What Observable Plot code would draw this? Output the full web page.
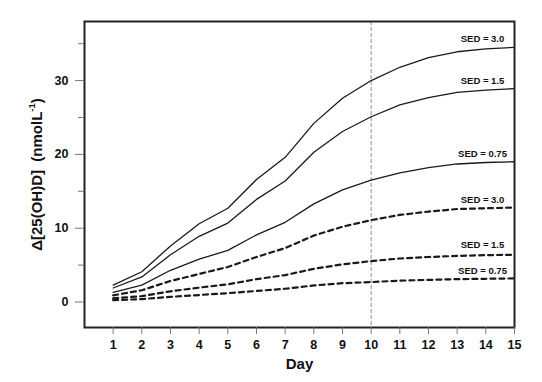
<!DOCTYPE html>
<html>
<head>
<meta charset="utf-8">
<script src="https://cdn.jsdelivr.net/npm/d3@7"></script>
<script src="https://cdn.jsdelivr.net/npm/@observablehq/plot@0.6"></script>
<style>
  html, body { margin: 0; padding: 0; background: white; }
  #chart svg { display: block; }
</style>
</head>
<body>
<div id="chart"></div>
<script>
const days = [1, 2, 3, 4, 5, 6, 7, 8, 9, 10, 11, 12, 13, 14, 15];
const solid30  = [2.3, 4.1, 7.6, 10.6, 12.7, 16.6, 19.6, 24.2, 27.6, 30.0, 31.8, 33.1, 33.9, 34.3, 34.5];
const solid15  = [1.9, 3.4, 6.4, 8.9, 10.7, 13.9, 16.4, 20.3, 23.1, 25.1, 26.7, 27.7, 28.4, 28.7, 28.9];
const solid075 = [1.3, 2.3, 4.3, 5.8, 7.0, 9.1, 10.8, 13.3, 15.2, 16.5, 17.5, 18.2, 18.7, 18.9, 19.0];
const dash30   = [0.9, 1.6, 2.85, 3.8, 4.75, 6.1, 7.3, 9.0, 10.2, 11.1, 11.8, 12.25, 12.6, 12.7, 12.8];
const dash15   = [0.5, 0.8, 1.45, 1.95, 2.4, 3.1, 3.65, 4.5, 5.1, 5.55, 5.9, 6.1, 6.25, 6.35, 6.4];
const dash075  = [0.25, 0.4, 0.7, 0.95, 1.2, 1.5, 1.8, 2.25, 2.55, 2.7, 2.9, 3.0, 3.1, 3.15, 3.2];
const seriesLabels = ["SED = 3.0", "SED = 1.5", "SED = 0.75", "SED = 3.0", "SED = 1.5", "SED = 0.75"];
const yTicks = [0, 10, 20, 30];
const yMinorTicks = [5, 15, 25, 35];
const markerDay = 10;

const series = [
  {values: solid30,  label: seriesLabels[0], dashed: false, dy: -8},
  {values: solid15,  label: seriesLabels[1], dashed: false, dy: -8},
  {values: solid075, label: seriesLabels[2], dashed: false, dy: -8},
  {values: dash30,   label: seriesLabels[3], dashed: true,  dy: -8},
  {values: dash15,   label: seriesLabels[4], dashed: true,  dy: -10},
  {values: dash075,  label: seriesLabels[5], dashed: true,  dy: -7.5}
];

const lineMarks = series.map(s => Plot.line(days.map((d, i) => ({day: d, v: s.values[i]})), {
  x: "day", y: "v",
  stroke: "#1a1a1a",
  strokeWidth: s.dashed ? 2.2 : 1.3,
  strokeDasharray: s.dashed ? "5,4" : null,
  curve: "linear"
}));

const labelMarks = series.map(s => Plot.text([{day: days[days.length - 1], v: s.values[s.values.length - 1], t: s.label}], {
  x: "day", y: "v", text: "t",
  dx: -32, dy: s.dy,
  textAnchor: "middle",
  fontSize: 9.5, fontWeight: "bold", fill: "#111"
}));

const font = "'Liberation Sans', Arial, Helvetica, sans-serif";

const chart = Plot.plot({
  width: 542,
  height: 382,
  marginLeft: 84,
  marginRight: 28,
  marginTop: 21,
  marginBottom: 55,
  style: {fontFamily: font, background: "white", color: "#111"},
  x: {domain: [0, 15]},
  y: {domain: [-3.45, 38]},
  marks: [
    Plot.ruleX([markerDay], {stroke: "#a8a8a8", strokeWidth: 1.3, strokeDasharray: "4,2"}),
    ...lineMarks,
    ...labelMarks,
    Plot.frame({stroke: "#222", strokeWidth: 2}),
    Plot.axisX(days, {tickSize: 7, tickPadding: 6, stroke: "#777", fontSize: 12.5, fontWeight: "bold", fill: "#111", label: null}),
    Plot.axisY(yTicks, {tickSize: 9, tickPadding: 7, stroke: "#777", fontSize: 12.5, fontWeight: "bold", fill: "#111", label: null}),
    Plot.axisY(yMinorTicks, {tickSize: 6, stroke: "#777", text: null, label: null}),
    Plot.text(["Day"], {frameAnchor: "bottom", dy: 41, fontSize: 15, fontWeight: "bold", fill: "#111"})
  ]
});

document.getElementById("chart").appendChild(chart);

// rotated y-axis title with superscript
const svg = d3.select(chart.tagName.toLowerCase() === "svg" ? chart : chart.querySelector("svg"));
const t = svg.append("text")
  .attr("transform", "translate(36,174.5) rotate(-90)")
  .attr("text-anchor", "middle")
  .attr("dominant-baseline", "central")
  .attr("font-family", font)
  .attr("font-size", 15)
  .attr("font-weight", "bold")
  .attr("fill", "#111");
t.append("tspan").attr("xml:space", "preserve").text("\u0394[25(OH)D]\u00a0\u00a0(nmolL");
t.append("tspan").attr("font-size", 9.5).attr("dy", "-0.55em").text("-1");
t.append("tspan").attr("dy", "0.35em").text(")");
</script>
</body>
</html>
